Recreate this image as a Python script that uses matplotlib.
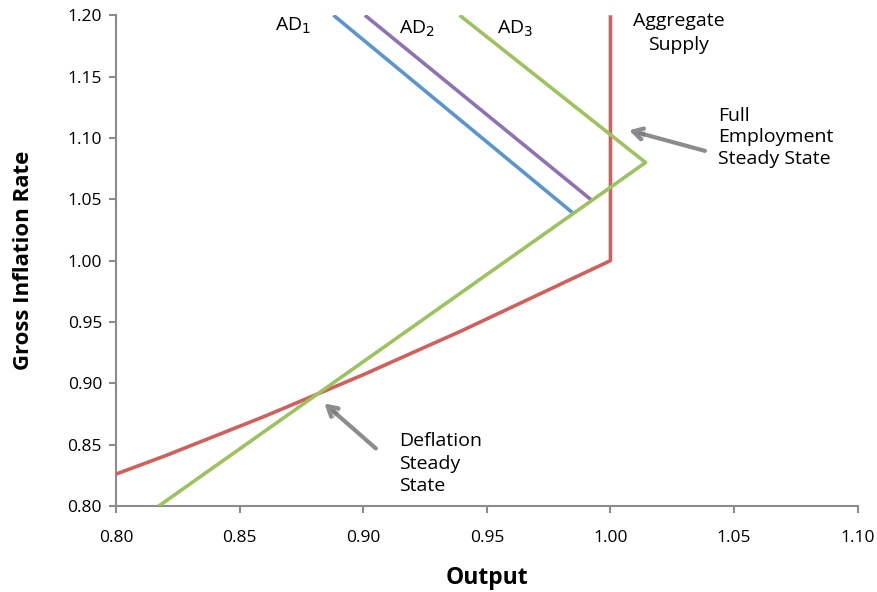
import matplotlib.pyplot as plt
import matplotlib.patheffects as pe

plt.rcParams['font.family'] = ['Open Sans', 'DejaVu Sans']

# aggregate supply: curved part then vertical at full employment
as_x = [0.80, 0.82, 0.84, 0.86, 0.88, 0.90, 0.92, 0.94, 0.96, 0.98, 1.00, 1.00]
as_y = [0.826, 0.841, 0.857, 0.873, 0.890, 0.907, 0.925, 0.943, 0.962, 0.981, 1.00, 1.20]

# aggregate demand: AD3 has upper branch, kink, lower branch
ad3_x = [0.939, 1.0142, 0.8173]
ad3_y = [1.20, 1.080, 0.80]
# AD1 / AD2 upper branches meet the shared lower branch
ad1_x = [0.888, 0.985]
ad1_y = [1.20, 1.0385]
ad2_x = [0.9007, 0.9925]
ad2_y = [1.20, 1.0491]

xticks = [0.80, 0.85, 0.90, 0.95, 1.00, 1.05, 1.10]
yticks = [0.80, 0.85, 0.90, 0.95, 1.00, 1.05, 1.10, 1.15, 1.20]

fig = plt.figure(figsize=(8.78, 5.92), dpi=100)
ax = fig.add_axes([116/878, 1-506/592, (857.7-116)/878, (506-15.3)/592])

lw = 2.6
ax.plot(ad1_x, ad1_y, color='#5b95cf', lw=lw, solid_capstyle='butt', zorder=3)
ax.plot(ad2_x, ad2_y, color='#8f72b3', lw=lw, solid_capstyle='butt', zorder=3)
ax.plot(as_x, as_y, color='#d0605c', lw=lw, solid_capstyle='butt', zorder=4)
ax.plot(ad3_x, ad3_y, color='#9dc35f', lw=lw, solid_capstyle='butt', zorder=5)

ax.set_xlim(0.80, 1.10)
ax.set_ylim(0.80, 1.20)
ax.set_xticks(xticks)
ax.set_yticks(yticks)
ax.set_xticklabels(['%.2f' % v for v in xticks])
ax.set_yticklabels(['%.2f' % v for v in yticks])
for s in ['top', 'right']:
    ax.spines[s].set_visible(False)
for s in ['left', 'bottom']:
    ax.spines[s].set_color('#8c8c8c')
    ax.spines[s].set_linewidth(1.5)
ax.tick_params(colors='#8c8c8c', width=1.5, length=5, labelcolor='black', labelsize=12.5)
ax.tick_params(axis='x', pad=12)
ax.tick_params(axis='y', pad=5)

ax.set_xlabel('Output', fontsize=16.5, fontweight='bold', labelpad=15)
ax.set_ylabel('Gross Inflation Rate', fontsize=16, fontweight='bold', labelpad=24)

# curve labels
tf = 14
ax.text(0.8645, 1.191, 'AD$_1$', fontsize=tf, ha='left', va='center')
ax.text(0.9146, 1.189, 'AD$_2$', fontsize=tf, ha='left', va='center')
ax.text(0.9541, 1.189, 'AD$_3$', fontsize=tf, ha='left', va='center')
ax.text(1.0277, 1.1855, 'Aggregate\nSupply', fontsize=tf, ha='center', va='center', linespacing=1.4)

ax.text(1.0435, 1.1007, 'Full\nEmployment\nSteady State', fontsize=tf, ha='left', va='center', linespacing=1.25)
ax.text(0.9145, 0.8346, 'Deflation\nSteady\nState', fontsize=tf, ha='left', va='center', linespacing=1.3)

arrow = dict(arrowstyle='->,head_length=0.7,head_width=0.4', color='#8c8c8c', lw=3, shrinkA=0, shrinkB=0,
             path_effects=[pe.SimplePatchShadow(offset=(1.5, -1.5), alpha=0.25), pe.Normal()])
ax.annotate('', xy=(1.0075, 1.1063), xytext=(1.0382, 1.0895), arrowprops=arrow, zorder=6)
ax.annotate('', xy=(0.8843, 0.8836), xytext=(0.9051, 0.8469), arrowprops=arrow, zorder=6)

plt.savefig('out.png', dpi=100)
